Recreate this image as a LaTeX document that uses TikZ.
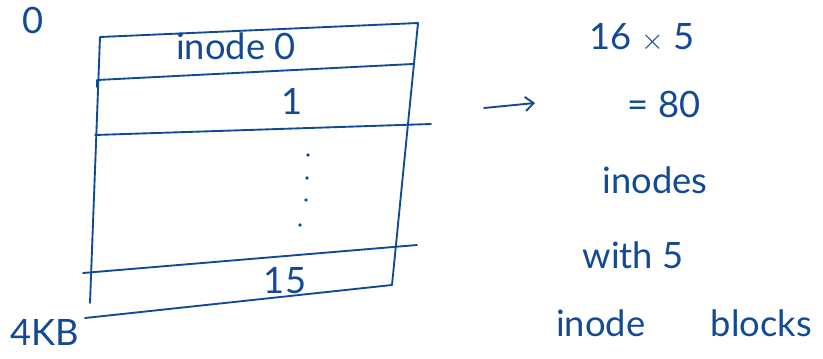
\documentclass[tikz,border=0pt]{standalone}
\usepackage{fontspec}
\setmainfont{Lato}
\usetikzlibrary{arrows.meta}
\definecolor{ink}{RGB}{18,74,150}
\tikzset{
  pen/.style={draw=ink,line width=1.6pt,line cap=round,line join=round},
  lbl/.style={text=ink,inner sep=0pt,font=\fontsize{31}{34}\selectfont}
}
\begin{document}
\begin{tikzpicture}[x=0.03cm,y=-0.03cm,>={Straight Barb[length=7pt,width=12pt]}]
\useasboundingbox (0,0) rectangle (823,358);

% the block with its inode slots
\draw[pen] (90,303) -- (100,37) -- (418,23) -- (392,285) -- (85,318);
\draw[pen] (97,87) -- (97,80) -- (413,64);
\draw[pen] (95,135) -- (431,124);
\draw[pen] (83,273) -- (417,245);
\foreach \x/\y in {308/155, 307/178, 306/200, 300/225}
  \fill[ink] (\x,\y) circle (1.6pt);

\node[lbl] (start) at (33,20) {0};
\node[lbl] (size) at (45,332) {4KB};
\node[lbl] (first) at (236,46) {inode 0};
\node[lbl] (second) at (292,101) {1};
\node[lbl] (last) at (285,281) {15};

% the count on the right
\node[lbl] (prod) at (642,38) {16 $\times$ 5};
\node[lbl] (total) at (664,104) {= 80};
\node[lbl] (kind) at (655,180) {inodes};
\node[lbl] (with) at (633,255) {with 5};
\node[lbl] (blocks) at (684,323) {inode\hspace{1.8em}blocks};

\coordinate (tail) at (484,108);
\coordinate (tip) at (535,103);
\draw[pen,->] (tail) -- (tip);
\end{tikzpicture}
\end{document}
